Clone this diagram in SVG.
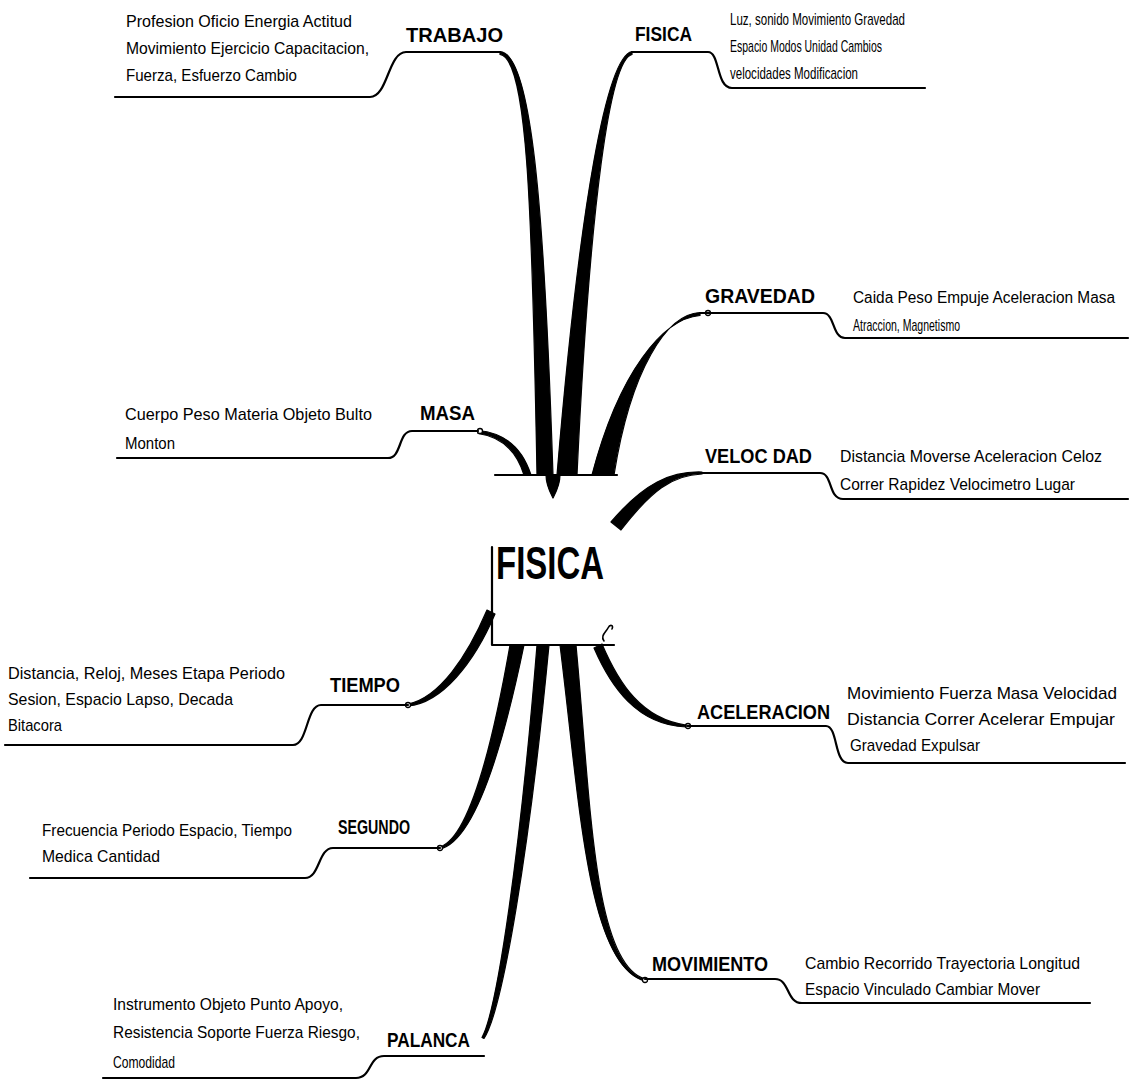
<svg xmlns="http://www.w3.org/2000/svg" width="1131" height="1080" viewBox="0 0 1131 1080">
  <style>
    .bg { fill: #ffffff; }
    .rule { fill: none; stroke: #000; stroke-width: 2.2; stroke-linecap: round; stroke-linejoin: round; }
    .stem { fill: #000; stroke: #000; stroke-width: 1.2; stroke-linejoin: round; }
    .thin { fill: none; stroke: #000; stroke-width: 2.5; stroke-linecap: round; }
    .knot { fill: #fff; stroke: #000; stroke-width: 1.3; }
    .lbl { font-family: "Liberation Sans Narrow", "Liberation Sans", Arial, sans-serif; font-weight: bold; font-size: 20px; fill: #000; }
    .txt { font-family: "Liberation Sans Narrow", "Liberation Sans", Arial, sans-serif; font-size: 17px; fill: #000; }
    .hub { font-family: "Liberation Sans Narrow", "Liberation Sans", Arial, sans-serif; font-weight: bold; font-size: 46px; fill: #000; }
  </style>

  <rect class="bg" x="0" y="0" width="1131" height="1080"/>

  <!-- central topic -->
  <g id="node-fisica-center">
    <path class="rule" d="M495,475 L617,475"/>
    <path class="rule" d="M492,547 L492,645 L614,645"/>
    <text class="hub" x="496" y="579" textLength="108" lengthAdjust="spacingAndGlyphs">FISICA</text>
  </g>

  <!-- tapered branches running out of the central topic -->
  <g id="connectors">
    <!-- TRABAJO -->
    <path class="stem" d="M500,51.5 C531,53 544,200 553,475 L537,475 C532,200 527,58 500,54.5 Z"/>
    <!-- FISICA (top) -->
    <path class="stem" d="M632,51.5 C607,56 580,200 557,475 L577,475 C590,200 610,60 632,54.5 Z"/>
    <!-- drop under the top rule -->
    <path class="stem" d="M546,475 C546,485 550,492 553,498 C556,492 560,485 560,475 Z"/>
    <!-- GRAVEDAD -->
    <path class="stem" d="M700,312.5 C667,314 631,368 614,475 L592,475 C619,372 663,318.5 700,315.5 Z"/>
    <!-- MASA -->
    <path class="stem" d="M478,430.5 C507,433 523,450 531,475 L524,475 C517,452 503,437 478,433.5 Z"/>
    <!-- VELOCIDAD -->
    <path class="stem" d="M702,472 C671,471 644,483 611,522 L621,530 C651,491 672,475 702,474 Z"/>
    <!-- ACELERACION -->
    <path class="stem" d="M602,644 C619,684 642,719 686,725 L686,727 C637,725 611,687 594,648 Z"/>
    <path class="thin" style="stroke-width:1.6" d="M604,641 C600,636 606,632 608,628 C610,624 614,625 612,629"/>
    <!-- TIEMPO -->
    <path class="stem" d="M408,704 C439,698 467,657 487,610 L495,614 C474,663 442,703 408,706 Z"/>
    <!-- SEGUNDO -->
    <path class="stem" d="M440,849 C472.5,841.6 500,761 524,645 L510,645 C490,759 467.5,838 440,847 Z"/>
    <!-- PALANCA -->
    <path class="stem" d="M484,1038.5 C502.5,1010.5 529.5,850.5 549,645 L537,645 C520.5,849.5 497.5,1009.5 482,1037.5 Z"/>
    <!-- MOVIMIENTO -->
    <path class="stem" d="M645,979 C593,964 590.5,799.6 576,645 L560,645 C579.5,800.4 587,966 645,981 Z"/>
    <!-- junction knots -->
    <circle class="knot" cx="708" cy="313" r="2.5"/>
    <circle class="knot" cx="480" cy="431" r="2.5"/>
    <circle class="knot" cx="408" cy="705" r="2.5"/>
    <circle class="knot" cx="440" cy="848" r="2.5"/>
    <circle class="knot" cx="688" cy="726" r="2.5"/>
    <circle class="knot" cx="645" cy="980" r="2.5"/>
  </g>

  <g id="node-trabajo">
    <path class="rule" d="M115,97 L370,97 C388,97 388,52 406,52 L500,52"/>
    <text class="lbl" x="406" y="42" textLength="97" lengthAdjust="spacingAndGlyphs">TRABAJO</text>
    <text class="txt" x="126" y="27" textLength="226" lengthAdjust="spacingAndGlyphs">Profesion Oficio Energia Actitud</text>
    <text class="txt" x="126" y="54" textLength="243" lengthAdjust="spacingAndGlyphs">Movimiento Ejercicio Capacitacion,</text>
    <text class="txt" x="126" y="81" textLength="171" lengthAdjust="spacingAndGlyphs">Fuerza, Esfuerzo Cambio</text>
  </g>

  <g id="node-fisica">
    <path class="rule" d="M632,52 L708,52 C720,52 716,88 732,88 L925,88"/>
    <text class="lbl" x="635" y="41" textLength="57" lengthAdjust="spacingAndGlyphs">FISICA</text>
    <text class="txt" x="730" y="25" textLength="175" lengthAdjust="spacingAndGlyphs">Luz, sonido Movimiento Gravedad</text>
    <text class="txt" x="730" y="52" textLength="152" lengthAdjust="spacingAndGlyphs">Espacio Modos Unidad Cambios</text>
    <text class="txt" x="730" y="79" textLength="128" lengthAdjust="spacingAndGlyphs">velocidades Modificacion</text>
  </g>

  <g id="node-gravedad">
    <path class="rule" d="M700,313 L823,313 C835,313 832,338 845,338 L1128,338"/>
    <text class="lbl" x="705" y="303" textLength="110" lengthAdjust="spacingAndGlyphs">GRAVEDAD</text>
    <text class="txt" x="853" y="303" style="font-size:16px" textLength="262" lengthAdjust="spacingAndGlyphs">Caida Peso Empuje Aceleracion Masa</text>
    <text class="txt" x="853" y="331" textLength="107" lengthAdjust="spacingAndGlyphs">Atraccion, Magnetismo</text>
  </g>

  <g id="node-masa">
    <path class="rule" d="M117,458 L388,458 C402,458 398,431 412,431 L478,431"/>
    <text class="lbl" x="420" y="420" textLength="55" lengthAdjust="spacingAndGlyphs">MASA</text>
    <text class="txt" x="125" y="420" textLength="247" lengthAdjust="spacingAndGlyphs">Cuerpo Peso Materia Objeto Bulto</text>
    <text class="txt" x="125" y="449" textLength="50" lengthAdjust="spacingAndGlyphs">Monton</text>
  </g>

  <g id="node-velocidad">
    <path class="rule" d="M702,473 L820,473 C833,473 828,499 843,499 L1128,499"/>
    <text class="lbl" x="705" y="463" textLength="107" lengthAdjust="spacingAndGlyphs">VELOC DAD</text>
    <text class="txt" x="840" y="462" textLength="262" lengthAdjust="spacingAndGlyphs">Distancia Moverse Aceleracion Celoz</text>
    <text class="txt" x="840" y="490" textLength="235" lengthAdjust="spacingAndGlyphs">Correr Rapidez Velocimetro Lugar</text>
  </g>

  <g id="node-tiempo">
    <path class="rule" d="M5,745 L293,745 C308,745 306,705 321,705 L408,705"/>
    <text class="lbl" x="330" y="692" textLength="70" lengthAdjust="spacingAndGlyphs">TIEMPO</text>
    <text class="txt" x="8" y="679" textLength="277" lengthAdjust="spacingAndGlyphs">Distancia, Reloj, Meses Etapa Periodo</text>
    <text class="txt" x="8" y="705" textLength="225" lengthAdjust="spacingAndGlyphs">Sesion, Espacio Lapso, Decada</text>
    <text class="txt" x="8" y="731" textLength="54" lengthAdjust="spacingAndGlyphs">Bitacora</text>
  </g>

  <g id="node-aceleracion">
    <path class="rule" d="M687,726 L826,726 C838,726 834,763 848,763 L1125,763"/>
    <text class="lbl" x="697" y="719" textLength="133" lengthAdjust="spacingAndGlyphs">ACELERACION</text>
    <text class="txt" x="847" y="699" textLength="270" lengthAdjust="spacingAndGlyphs">Movimiento Fuerza Masa Velocidad</text>
    <text class="txt" x="847" y="725" textLength="268" lengthAdjust="spacingAndGlyphs">Distancia Correr Acelerar Empujar</text>
    <text class="txt" x="850" y="751" textLength="130" lengthAdjust="spacingAndGlyphs">Gravedad Expulsar</text>
  </g>

  <g id="node-segundo">
    <path class="rule" d="M30,878 L305,878 C320,878 318,848 333,848 L440,848"/>
    <text class="lbl" x="338" y="834" textLength="72" lengthAdjust="spacingAndGlyphs">SEGUNDO</text>
    <text class="txt" x="42" y="836" textLength="250" lengthAdjust="spacingAndGlyphs">Frecuencia Periodo Espacio, Tiempo</text>
    <text class="txt" x="42" y="862" textLength="118" lengthAdjust="spacingAndGlyphs">Medica Cantidad</text>
  </g>

  <g id="node-movimiento">
    <path class="rule" d="M645,979 L775,979 C790,979 786,1003 802,1003 L1090,1003"/>
    <text class="lbl" x="652" y="971" textLength="116" lengthAdjust="spacingAndGlyphs">MOVIMIENTO</text>
    <text class="txt" x="805" y="969" textLength="275" lengthAdjust="spacingAndGlyphs">Cambio Recorrido Trayectoria Longitud</text>
    <text class="txt" x="805" y="995" textLength="235" lengthAdjust="spacingAndGlyphs">Espacio Vinculado Cambiar Mover</text>
  </g>

  <g id="node-palanca">
    <path class="rule" d="M103,1078 L356,1078 C372,1078 368,1056 384,1056 L484,1056"/>
    <text class="lbl" x="387" y="1047" textLength="83" lengthAdjust="spacingAndGlyphs">PALANCA</text>
    <text class="txt" x="113" y="1010" textLength="230" lengthAdjust="spacingAndGlyphs">Instrumento Objeto Punto Apoyo,</text>
    <text class="txt" x="113" y="1038" textLength="247" lengthAdjust="spacingAndGlyphs">Resistencia Soporte Fuerza Riesgo,</text>
    <text class="txt" x="113" y="1068" textLength="62" lengthAdjust="spacingAndGlyphs">Comodidad</text>
  </g>
</svg>
